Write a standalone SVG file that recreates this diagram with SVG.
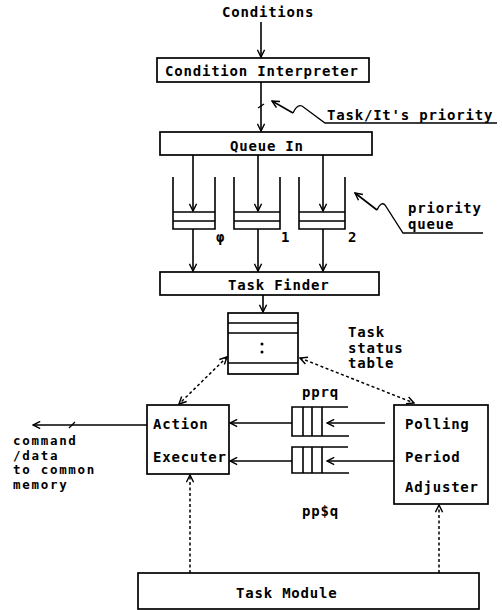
<svg xmlns="http://www.w3.org/2000/svg" width="502" height="610" viewBox="0 0 502 610">
<style>
  text { font-family: "DejaVu Sans Mono", "Liberation Mono", monospace; font-size: 14px; font-weight: bold; letter-spacing: 0.8px; fill: #000; }
  .sm { font-size: 12.5px; letter-spacing: 1.7px; }
  .box { fill: #fff; stroke: #000; stroke-width: 1.7; }
  .ln { fill: none; stroke: #000; stroke-width: 1.6; }
  .arr { fill: none; stroke: #000; stroke-width: 1.6; marker-end: url(#ah); }
  .dash { fill: none; stroke: #000; stroke-width: 1.5; stroke-dasharray: 3 2.5; }
  .thin { fill: none; stroke: #000; stroke-width: 1.3; }
</style>
<defs>
  <marker id="ah" viewBox="0 0 10 10" refX="9" refY="5" markerUnits="userSpaceOnUse" markerWidth="9" markerHeight="9" orient="auto-start-reverse">
    <path d="M1,1 L9,5 L1,9" fill="none" stroke="#000" stroke-width="1.6"/>
  </marker>
</defs>
<rect width="502" height="610" fill="#fff"/>

<g id="conditions"><text x="222" y="17">Conditions</text></g>

<g id="condition-interpreter">
  <rect class="box" x="157" y="58" width="212" height="24"/>
  <text x="165" y="76">Condition Interpreter</text>
</g>

<g id="task-priority-label">
  <text x="327" y="120">Task/It's priority</text>
</g>

<g id="queue-in">
  <rect class="box" x="160" y="132" width="212" height="23"/>
  <text x="230" y="151">Queue In</text>
</g>

<g id="queue-0">
  <path class="ln" d="M173,177 V229 H215 V177 M173,212 H215 M173,221 H215"/>
  <text x="216" y="242">φ</text>
</g>
<g id="queue-1">
  <path class="ln" d="M234,177 V229 H280 V177 M234,212 H280 M234,221 H280"/>
  <text x="281" y="242">1</text>
</g>
<g id="queue-2">
  <path class="ln" d="M299,177 V229 H345 V177 M299,212 H345 M299,221 H345"/>
  <text x="348" y="242">2</text>
</g>

<g id="priority-queue-label">
  <text x="408" y="213">priority</text>
  <text x="408" y="229">queue</text>
</g>

<g id="task-finder">
  <rect class="box" x="160" y="272" width="219" height="23"/>
  <text x="228" y="290">Task Finder</text>
</g>

<g id="task-status-table">
  <rect class="box" x="228" y="313" width="70" height="61"/>
  <path class="ln" d="M228,323 H298 M228,333 H298 M228,363 H298"/>
  <circle cx="262" cy="344" r="1.5"/>
  <circle cx="262" cy="352" r="1.5"/>
  <text x="348" y="337">Task</text>
  <text x="348" y="353">status</text>
  <text x="348" y="368">table</text>
</g>

<g id="action-executer">
  <rect class="box" x="147" y="405" width="82" height="69"/>
  <text x="153" y="429">Action</text>
  <text x="153" y="462">Executer</text>
</g>

<g id="polling-period-adjuster">
  <rect class="box" x="394" y="405" width="94" height="99"/>
  <text x="405" y="429">Polling</text>
  <text x="405" y="462">Period</text>
  <text x="405" y="492">Adjuster</text>
</g>

<g id="pprq">
  <path class="ln" d="M348,407 H292 V436 H349 M303,407 V436 M312,407 V436 M322,407 V436"/>
  <text x="302" y="397">pprq</text>
</g>

<g id="ppsq">
  <path class="ln" d="M348,447 H292 V473 H349 M303,447 V473 M312,447 V473 M322,447 V473"/>
  <text x="302" y="516">pp$q</text>
</g>

<g id="command-label">
  <text class="sm" x="13" y="445">command</text>
  <text class="sm" x="13" y="459.5">/data</text>
  <text class="sm" x="13" y="474">to common</text>
  <text class="sm" x="13" y="488.5">memory</text>
</g>

<g id="task-module">
  <rect class="box" x="138" y="573" width="341" height="36"/>
  <text x="236" y="598">Task Module</text>
</g>

<g id="connectors">
  <line class="arr" x1="261" y1="22" x2="261" y2="57"/>
  <line class="arr" x1="261" y1="82" x2="261" y2="131"/>
  <line class="thin" x1="258" y1="108" x2="264" y2="104"/>
  <path class="thin" d="M293,113 Q297,104 302,106 L325,123 H497" />
  <line class="arr" x1="293" y1="113" x2="272" y2="101"/>
  <line class="arr" x1="193" y1="155" x2="193" y2="211"/>
  <line class="arr" x1="258" y1="155" x2="258" y2="211"/>
  <line class="arr" x1="323" y1="155" x2="323" y2="211"/>
  <line class="arr" x1="193" y1="229" x2="193" y2="271"/>
  <line class="arr" x1="258" y1="229" x2="258" y2="271"/>
  <line class="arr" x1="323" y1="229" x2="323" y2="271"/>
  <path class="thin" d="M377,210 Q381,201 385,205 L403,233 H483"/>
  <line class="arr" x1="377" y1="210" x2="355" y2="193"/>
  <line class="arr" x1="263" y1="295" x2="263" y2="312"/>
  <line class="dash" x1="227" y1="357" x2="179" y2="404" marker-start="url(#ah)" marker-end="url(#ah)"/>
  <line class="dash" x1="300" y1="358" x2="414" y2="403" marker-start="url(#ah)" marker-end="url(#ah)"/>
  <line class="arr" x1="385" y1="423" x2="327" y2="423"/>
  <line class="arr" x1="292" y1="423" x2="230" y2="423"/>
  <line class="arr" x1="394" y1="461" x2="327" y2="461"/>
  <line class="arr" x1="292" y1="461" x2="230" y2="461"/>
  <line class="arr" x1="147" y1="425" x2="33" y2="425"/>
  <line class="thin" x1="69" y1="428" x2="75" y2="422"/>
  <line class="dash" x1="190" y1="573" x2="190" y2="475" marker-end="url(#ah)"/>
  <line class="dash" x1="439" y1="573" x2="439" y2="505" marker-end="url(#ah)"/>
</g>
</svg>
